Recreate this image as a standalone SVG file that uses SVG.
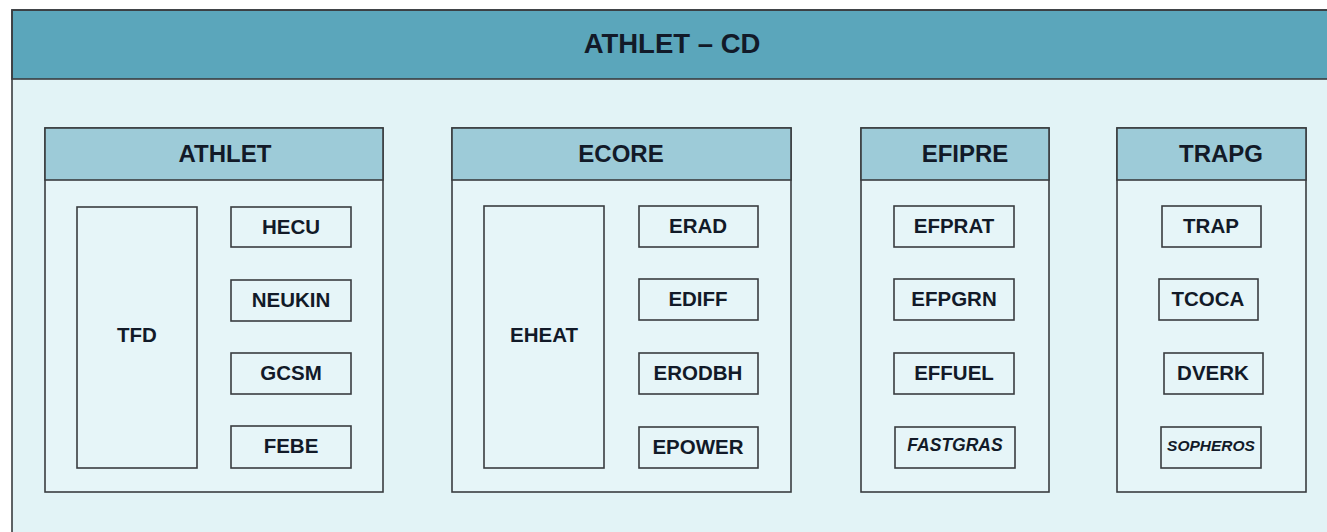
<svg xmlns="http://www.w3.org/2000/svg" width="1327" height="532" viewBox="0 0 1327 532">
<style>
.bg{fill:#e2f3f6}
.frame{fill:none;stroke:#3a3d40;stroke-width:1.6}
.band{fill:#5ba6bb;stroke:#3a3d40;stroke-width:1.6}
.sub{fill:#9dcbd8;stroke:#3a3d40;stroke-width:1.6}
.box{fill:#e6f5f8;stroke:#3a3d40;stroke-width:1.6}
text{font-family:"Liberation Sans",Arial,sans-serif;font-weight:bold;fill:#121a28;text-anchor:middle}
.t0{font-size:27.5px}
.t1{font-size:24px}
.t2{font-size:20.5px}
.it{font-size:17.5px;font-style:italic}
.it2{font-size:15.5px;font-style:italic}
</style>
<rect x="0" y="0" width="1327" height="532" fill="#ffffff"/>
<g id="outer">
<rect class="bg" x="12" y="10" width="1330" height="540"/>
<rect class="band" x="12" y="10" width="1330" height="69"/>
<rect class="frame" x="12" y="10" width="1330" height="540"/>
<text class="t0" x="672" y="53">ATHLET – CD</text>
</g>
<g id="athlet">
<rect class="box" x="45" y="128" width="338" height="364"/>
<rect class="sub" x="45" y="128" width="338" height="52"/>
<text class="t1" x="225" y="162">ATHLET</text>
</g>
<g id="tfd"><rect class="box" x="77" y="207" width="120" height="261"/><text class="t2" x="137" y="342">TFD</text></g>
<g id="hecu"><rect class="box" x="231" y="207" width="120" height="40"/><text class="t2" x="291" y="234">HECU</text></g>
<g id="neukin"><rect class="box" x="231" y="280" width="120" height="41"/><text class="t2" x="291" y="307">NEUKIN</text></g>
<g id="gcsm"><rect class="box" x="231" y="353" width="120" height="41"/><text class="t2" x="291" y="380">GCSM</text></g>
<g id="febe"><rect class="box" x="231" y="426" width="120" height="42"/><text class="t2" x="291" y="453">FEBE</text></g>
<g id="ecore">
<rect class="box" x="452" y="128" width="339" height="364"/>
<rect class="sub" x="452" y="128" width="339" height="52"/>
<text class="t1" x="621" y="162">ECORE</text>
</g>
<g id="eheat"><rect class="box" x="484" y="206" width="120" height="262"/><text class="t2" x="544" y="342">EHEAT</text></g>
<g id="erad"><rect class="box" x="639" y="206" width="119" height="41"/><text class="t2" x="698" y="233">ERAD</text></g>
<g id="ediff"><rect class="box" x="639" y="279" width="119" height="41"/><text class="t2" x="698" y="306">EDIFF</text></g>
<g id="erodbh"><rect class="box" x="639" y="353" width="119" height="41"/><text class="t2" x="698" y="380">ERODBH</text></g>
<g id="epower"><rect class="box" x="639" y="427" width="119" height="41"/><text class="t2" x="698" y="454">EPOWER</text></g>
<g id="efipre">
<rect class="box" x="861" y="128" width="188" height="364"/>
<rect class="sub" x="861" y="128" width="188" height="52"/>
<text class="t1" x="965" y="162">EFIPRE</text>
</g>
<g id="efprat"><rect class="box" x="894" y="206" width="120" height="41"/><text class="t2" x="954" y="233">EFPRAT</text></g>
<g id="efpgrn"><rect class="box" x="894" y="279" width="120" height="41"/><text class="t2" x="954" y="306">EFPGRN</text></g>
<g id="effuel"><rect class="box" x="894" y="353" width="120" height="41"/><text class="t2" x="954" y="380">EFFUEL</text></g>
<g id="fastgras"><rect class="box" x="895" y="427" width="120" height="41"/><text class="it" x="955" y="451">FASTGRAS</text></g>
<g id="trapg">
<rect class="box" x="1117" y="128" width="189" height="364"/>
<rect class="sub" x="1117" y="128" width="189" height="52"/>
<text class="t1" x="1221" y="162">TRAPG</text>
</g>
<g id="trap"><rect class="box" x="1162" y="206" width="99" height="41"/><text class="t2" x="1211" y="233">TRAP</text></g>
<g id="tcoca"><rect class="box" x="1159" y="279" width="99" height="41"/><text class="t2" x="1208" y="306">TCOCA</text></g>
<g id="dverk"><rect class="box" x="1164" y="353" width="99" height="41"/><text class="t2" x="1213" y="380">DVERK</text></g>
<g id="sopheros"><rect class="box" x="1161" y="427" width="100" height="41"/><text class="it2" x="1211" y="451">SOPHEROS</text></g>
<g id="connectors"></g>
</svg>
